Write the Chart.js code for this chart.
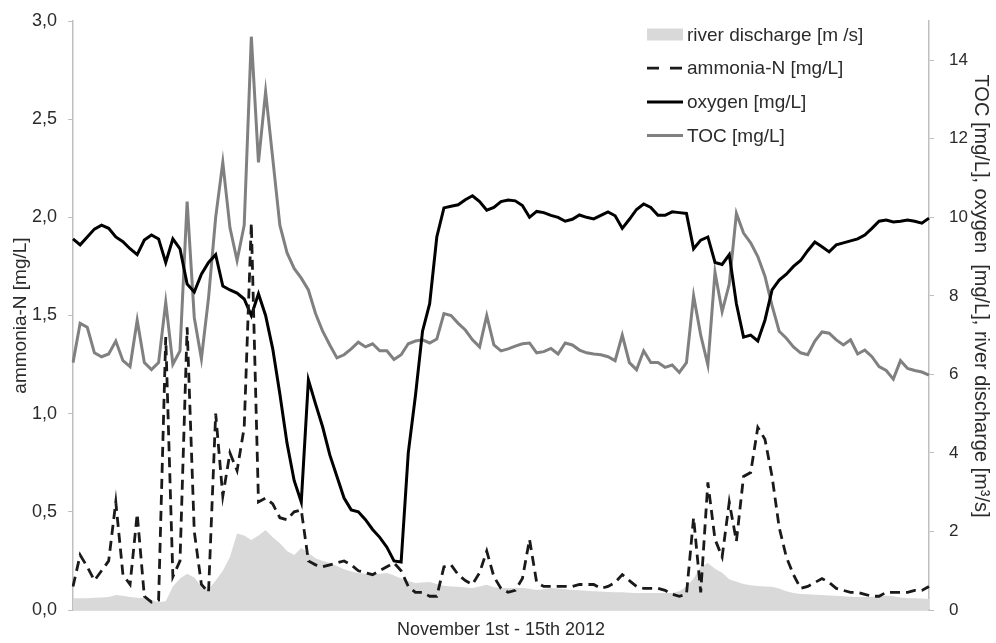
<!DOCTYPE html>
<html>
<head>
<meta charset="utf-8">
<script src="https://cdn.jsdelivr.net/npm/chart.js@4.4.1/dist/chart.umd.min.js"></script>
<style>
  html, body { margin: 0; padding: 0; background: #fff; }
  #wrap { width: 996px; height: 643px; position: relative; }
</style>
</head>
<body>
<div id="wrap"><canvas id="chart"></canvas></div>
<script>
// Zeitachse: 1.–15. Nov 2012, ein Wert alle 3 Stunden
const HOURS = Array.from({ length: 121 }, (_, i) => i * 3);

// river discharge [m3/s] (rechte Achse)
const DISCHARGE = [
    0.3, 0.3, 0.3, 0.31, 0.32, 0.33, 0.38, 0.36, 0.33, 0.31,
    0.3, 0.26, 0.2, 0.22, 0.6, 0.8, 0.92, 0.83, 0.6, 0.52,
    0.75, 1.0, 1.35, 1.95, 1.9, 1.78, 1.9, 2.04, 1.85, 1.7,
    1.5, 1.4, 1.58, 1.45, 1.32, 1.25, 1.2, 1.12, 1.04, 0.98,
    0.94, 0.92, 0.9, 0.92, 0.94, 0.88, 0.8, 0.74, 0.69, 0.7,
    0.71, 0.66, 0.62, 0.6, 0.59, 0.57, 0.56, 0.6, 0.64, 0.58,
    0.56, 0.56, 0.56, 0.56, 0.54, 0.51, 0.53, 0.56, 0.55, 0.53,
    0.51, 0.5, 0.49, 0.48, 0.47, 0.46, 0.45, 0.45, 0.44, 0.43,
    0.43, 0.43, 0.43, 0.43, 0.43, 0.48, 0.6, 0.8, 1.1, 1.2,
    1.05, 0.95, 0.78, 0.72, 0.66, 0.63, 0.61, 0.6, 0.59, 0.55,
    0.48, 0.43, 0.41, 0.4, 0.39, 0.38, 0.37, 0.36, 0.35, 0.34,
    0.33, 0.33, 0.34, 0.35, 0.36, 0.35, 0.32, 0.3, 0.3, 0.29,
    0.28
];

// ammonia-N [mg/L] (linke Achse)
const AMMONIA = [
    0.12, 0.28, 0.22, 0.15, 0.2, 0.25, 0.55, 0.18, 0.13, 0.49,
    0.07, 0.04, 0.05, 1.39, 0.17, 0.25, 1.44, 0.4, 0.13, 0.09,
    1.0, 0.58, 0.8, 0.71, 0.93, 1.97, 0.55, 0.57, 0.54, 0.47,
    0.46, 0.5, 0.51, 0.25, 0.23, 0.22, 0.23, 0.24, 0.25, 0.23,
    0.2, 0.19, 0.18, 0.2, 0.22, 0.24, 0.2, 0.12, 0.09, 0.09,
    0.07, 0.07, 0.22, 0.23, 0.18, 0.15, 0.13, 0.19, 0.3, 0.17,
    0.11, 0.09, 0.1, 0.16, 0.36, 0.14, 0.12, 0.12, 0.12, 0.12,
    0.12, 0.13, 0.13, 0.13, 0.11, 0.12, 0.14, 0.18, 0.15, 0.12,
    0.11, 0.11, 0.11, 0.1, 0.08, 0.07, 0.08, 0.47, 0.09, 0.65,
    0.36, 0.27, 0.55, 0.35, 0.68, 0.7, 0.93, 0.87, 0.68, 0.42,
    0.27, 0.18, 0.11, 0.12, 0.14, 0.16, 0.14, 0.11, 0.1, 0.09,
    0.09, 0.08, 0.07, 0.07, 0.09, 0.09, 0.09, 0.09, 0.1, 0.1,
    0.12
];

// oxygen [mg/L] (rechte Achse)
const OXYGEN = [
    9.45, 9.3, 9.5, 9.7, 9.8, 9.72, 9.5, 9.38, 9.2, 9.05,
    9.42, 9.55, 9.45, 8.85, 9.45, 9.2, 8.3, 8.1, 8.55, 8.85,
    9.05, 8.25, 8.15, 8.07, 7.92, 7.5, 8.05, 7.5, 6.65, 5.5,
    4.25, 3.3, 2.75, 5.86, 5.25, 4.66, 3.95, 3.4, 2.85, 2.55,
    2.5, 2.3, 2.05, 1.85, 1.6, 1.25, 1.22, 4.0, 5.45, 7.1,
    7.8, 9.5, 10.24, 10.28, 10.32, 10.45, 10.55, 10.4, 10.18, 10.25,
    10.4, 10.44, 10.42, 10.3, 10.0, 10.15, 10.12, 10.05, 10.0, 9.9,
    9.95, 10.06, 10.0, 9.96, 10.05, 10.14, 10.04, 9.72, 9.95, 10.2,
    10.34, 10.25, 10.05, 10.05, 10.14, 10.12, 10.1, 9.2, 9.42, 9.5,
    8.85, 8.8, 9.05, 7.8, 6.95, 7.0, 6.85, 7.38, 8.15, 8.4,
    8.55, 8.75, 8.9, 9.15, 9.37, 9.25, 9.12, 9.3, 9.35, 9.4,
    9.45, 9.55, 9.72, 9.9, 9.93, 9.88, 9.9, 9.93, 9.9, 9.85,
    9.98
];

// TOC [mg/L] (rechte Achse)
const TOC = [
    6.3, 7.3, 7.2, 6.55, 6.45, 6.52, 6.85, 6.35, 6.2, 7.38,
    6.3, 6.12, 6.3, 7.84, 6.26, 6.6, 10.4, 7.45, 6.4, 7.95,
    10.0, 11.4, 9.74, 8.9, 9.8, 14.6, 11.4, 13.2, 11.5, 9.8,
    9.1, 8.7, 8.45, 8.15, 7.55, 7.1, 6.75, 6.42, 6.5, 6.65,
    6.82, 6.7, 6.78, 6.6, 6.6, 6.38, 6.5, 6.78, 6.85, 6.88,
    6.8, 6.9, 7.55, 7.5, 7.3, 7.13, 6.88, 6.7, 7.5, 6.75,
    6.6, 6.65, 6.72, 6.78, 6.8, 6.55, 6.58, 6.66, 6.52, 6.8,
    6.75, 6.62, 6.55, 6.52, 6.5, 6.45, 6.35, 7.0, 6.3, 6.12,
    6.6, 6.3, 6.3, 6.18, 6.24, 6.05, 6.3, 8.0, 7.0, 6.24,
    8.6, 7.6, 8.3, 10.1, 9.6, 9.35, 9.0, 8.5, 7.75, 7.1,
    6.92, 6.7, 6.55, 6.5, 6.85, 7.08, 7.05, 6.88, 6.75, 6.88,
    6.52, 6.62, 6.45, 6.2, 6.1, 5.88, 6.35, 6.15, 6.1, 6.06,
    5.98
];

const LEFT_TICKS  = [0, 0.5, 1, 1.5, 2, 2.5, 3];
const RIGHT_TICKS = [0, 2, 4, 6, 8, 10, 12, 14];

const FONT = '"Liberation Sans", Arial, sans-serif';
const AXIS_GREY = '#bfbfbf';
const TXT = '#2b2b2b';

// ── Legende innerhalb des Plotbereichs, oben rechts ───────────────────────────
const insideLegend = {
    id: 'insideLegend',
    afterDraw(chart) {
        const ctx = chart.ctx;
        const a = chart.chartArea;
        const x0 = a.right - 282;
        const y0 = a.top + 13.5;
        const rowH = 33.7;
        ctx.save();
        ctx.font = '19px ' + FONT;
        ctx.textBaseline = 'middle';
        chart.data.datasets.forEach((ds, i) => {
            const y = y0 + i * rowH;
            if (ds.fill) {
                ctx.fillStyle = ds.backgroundColor;
                ctx.fillRect(x0, y - 6, 36, 12);
            } else {
                ctx.strokeStyle = ds.borderColor;
                ctx.lineWidth = ds.borderWidth;
                ctx.setLineDash(ds.borderDash ? [12, 11] : []);
                ctx.beginPath();
                ctx.moveTo(x0, y);
                ctx.lineTo(x0 + 36, y);
                ctx.stroke();
                ctx.setLineDash([]);
            }
            ctx.fillStyle = TXT;
            ctx.fillText(ds.label, x0 + 40, y + 1);
        });
        ctx.restore();
    },
};

const line = (label, data, color, width, axis, order, dash) => ({
    label, data, yAxisID: axis, order,
    borderColor: color, borderWidth: width, borderDash: dash,
    pointRadius: 0, tension: 0, fill: false,
});

new Chart(document.getElementById('chart'), {
    type: 'line',
    data: {
        labels: HOURS,
        datasets: [
            {
                label: 'river discharge [m /s]', data: DISCHARGE, yAxisID: 'yR', order: 4,
                backgroundColor: '#d9d9d9', borderWidth: 0, pointRadius: 0, fill: 'origin', tension: 0,
            },
            line('ammonia-N [mg/L]', AMMONIA, '#1a1a1a', 2.8, 'yL', 1, [10, 6]),
            line('oxygen [mg/L]', OXYGEN, '#000000', 3, 'yR', 2),
            line('TOC [mg/L]', TOC, '#808080', 3, 'yR', 3),
        ],
    },
    options: {
        responsive: true,
        maintainAspectRatio: false,
        animation: false,
        layout: { padding: { top: 21, right: 0, left: 0, bottom: 0 } },
        plugins: { legend: { display: false }, tooltip: { enabled: false } },
        scales: {
            x: {
                offset: false,
                grid: { display: false },
                border: { display: true, color: AXIS_GREY, width: 1.5 },
                ticks: { display: false },
                title: {
                    display: true, text: 'November 1st - 15th 2012', color: TXT,
                    font: { family: FONT, size: 18 }, padding: { top: 0, bottom: 2 },
                },
                afterFit: (s) => { s.height = 33; },
            },
            yL: {
                position: 'left', min: 0, max: 3,
                afterBuildTicks: (s) => { s.ticks = LEFT_TICKS.map(v => ({ value: v })); },
                grid: { drawOnChartArea: false, drawTicks: true, tickLength: 5, color: AXIS_GREY },
                border: { display: true, color: AXIS_GREY, width: 1.5 },
                ticks: {
                    color: TXT, font: { family: FONT, size: 18, lineHeight: 0.7 }, padding: 11,
                    callback: (v) => Number(v).toFixed(1).replace('.', ','),
                },
                title: {
                    display: true, text: 'ammonia-N [mg/L]', color: TXT,
                    font: { family: FONT, size: 19 }, padding: { top: 9, bottom: 0 },
                },
                afterFit: (s) => { s.width = 73; },
            },
            yR: {
                position: 'right', min: 0, max: 15,
                afterBuildTicks: (s) => { s.ticks = RIGHT_TICKS.map(v => ({ value: v })); },
                grid: { drawOnChartArea: false, drawTicks: true, tickLength: 5, color: AXIS_GREY },
                border: { display: true, color: AXIS_GREY, width: 1.5 },
                ticks: { color: TXT, font: { family: FONT, size: 17, lineHeight: 0.7 }, padding: 15 },
                title: {
                    display: true,
                    text: 'TOC [mg/L], oxygen  [mg/L], river discharge [m³/s]\u00a0\u00a0\u00a0\u00a0\u00a0\u00a0\u00a0',
                    color: TXT, font: { family: FONT, size: 20 }, padding: { top: 3, bottom: 0 },
                },
                afterFit: (s) => { s.width = 67; },
            },
        },
    },
    plugins: [insideLegend],
});
</script>
</body>
</html>
